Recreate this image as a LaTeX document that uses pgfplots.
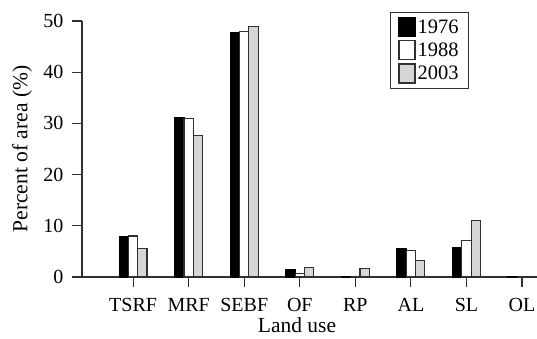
\documentclass[border=0pt]{standalone}
\usepackage{pgfplots}
\pgfplotsset{compat=1.18}
\usepackage{fontspec}
\setmainfont{Liberation Serif}
\definecolor{axgray}{HTML}{303030}
\definecolor{bargray}{HTML}{D6D6D6}
\begin{document}
\begin{tikzpicture}
\useasboundingbox (0,0) rectangle (537pt,338pt);
\begin{axis}[
  at={(82pt,61pt)}, anchor=south west,
  scale only axis, width=455pt, height=256pt,
  ybar=0pt, bar width=9.3pt,
  xmin=-0.92, xmax=7.27, ymin=0, ymax=50,
  axis x line=bottom, axis y line=left,
  axis line style={-, draw=axgray, line width=1.2pt},
  every tick/.style={draw=axgray, line width=1.2pt},
  tick align=outside, major tick length=10pt,
  xtick={0,...,7},
  xticklabels={TSRF,MRF,SEBF,OF,RP,AL,SL,OL},
  ytick={0,10,...,50},
  /pgf/number format/assume math mode=true,
  tick label style={font=\fontsize{20}{22}\selectfont},
  xticklabel style={yshift=-8pt},
  yticklabel style={xshift=-5pt},
  label style={font=\fontsize{21.5}{24}\selectfont},
  xlabel={Land use}, ylabel={Percent of area (\%)},
  x label style={at={(rel axis cs:0.4725,0)}, anchor=base, yshift=-55pt},
  y label style={at={(rel axis cs:0,0.5)}, anchor=center, yshift=60pt},
  legend image code/.code={\draw[#1, line width=1.2pt] (0pt,-9.5pt) rectangle (16pt,9.5pt);},
  legend style={at={(rel axis cs:0.677,1.035)}, anchor=north west,
    draw=axgray, line width=0.9pt, font=\fontsize{20.5}{22}\selectfont,
    inner xsep=8pt, inner ysep=4.5pt, row sep=3pt,
    /tikz/every even column/.append style={column sep=5pt}},
  legend cell align=left,
]
\addplot[fill=black, draw=black, line width=1.2pt] coordinates {(0,7.8) (1,31.1) (2,47.8) (3,1.5) (4,0) (5,5.6) (6,5.7) (7,0.1)};
\addplot[fill=white, draw=axgray, line width=1.2pt] coordinates {(0,8.0) (1,31.0) (2,48.0) (3,0.7) (4,0) (5,5.1) (6,7.2) (7,0.1)};
\addplot[fill=bargray, draw=axgray, line width=1.2pt] coordinates {(0,5.6) (1,27.7) (2,48.9) (3,1.9) (4,1.6) (5,3.3) (6,11.1) (7,0.1)};
\legend{1976,1988,2003}
\end{axis}
\end{tikzpicture}
\end{document}
